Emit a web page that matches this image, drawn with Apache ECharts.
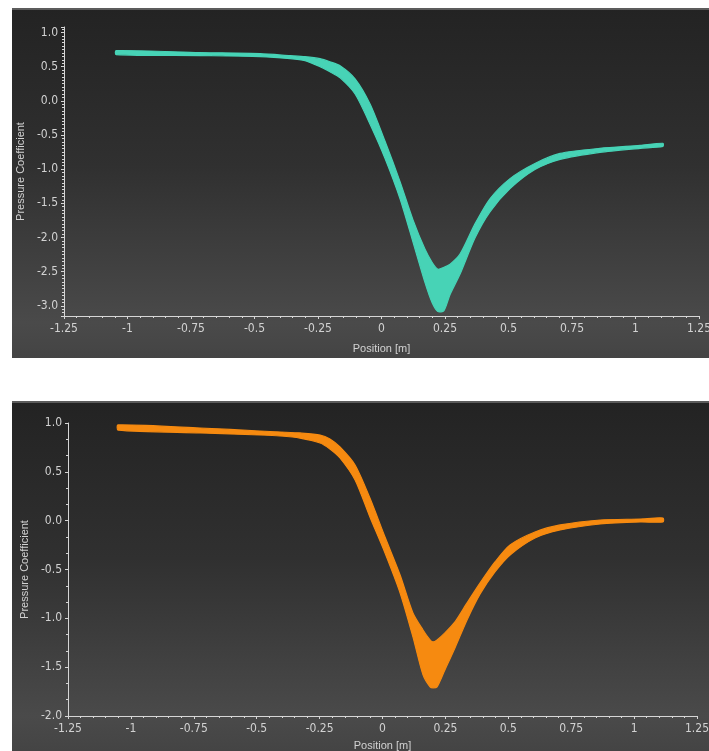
<!DOCTYPE html>
<html><head><meta charset="utf-8">
<script src="https://cdn.jsdelivr.net/npm/echarts@6/dist/echarts.min.js"></script>
<style>html,body{margin:0;padding:0;background:#fff}#c{width:709px;height:751px}</style>
</head><body><div id="c"></div>
<script>
// ---- Top chart (teal) ----
const topX     = [-1.045, -0.715, -0.478, -0.360, -0.301, -0.242, -0.203, -0.163, -0.104, -0.045, 0.014, 0.073, 0.124, 0.171, 0.199, 0.222, 0.246, 0.270, 0.309, 0.368, 0.427, 0.506, 0.604, 0.703, 0.860, 1.018, 1.108];
const topUpper = [0.735, 0.705, 0.690, 0.661, 0.646, 0.617, 0.572, 0.513, 0.322, -0.047, -0.593, -1.183, -1.743, -2.171, -2.363, -2.466, -2.437, -2.392, -2.245, -1.802, -1.434, -1.139, -0.917, -0.770, -0.696, -0.652, -0.622];
const topLower = [0.676, 0.661, 0.646, 0.617, 0.587, 0.499, 0.425, 0.336, 0.100, -0.342, -0.844, -1.434, -2.068, -2.658, -2.953, -3.086, -3.071, -2.835, -2.540, -2.009, -1.625, -1.286, -1.006, -0.858, -0.755, -0.696, -0.667];

// ---- Bottom chart (orange) ----
const botX     = [-1.051, -0.725, -0.487, -0.407, -0.328, -0.248, -0.209, -0.169, -0.109, -0.050, 0.010, 0.070, 0.121, 0.161, 0.189, 0.201, 0.217, 0.248, 0.288, 0.336, 0.388, 0.447, 0.507, 0.606, 0.706, 0.865, 1.024, 1.115];
const botUpper = [0.980, 0.949, 0.918, 0.908, 0.898, 0.877, 0.836, 0.754, 0.570, 0.232, -0.167, -0.556, -0.945, -1.119, -1.221, -1.242, -1.221, -1.149, -1.037, -0.842, -0.637, -0.423, -0.249, -0.116, -0.044, 0.007, 0.017, 0.027];
const botLower = [0.928, 0.898, 0.877, 0.867, 0.846, 0.795, 0.734, 0.642, 0.417, 0.038, -0.331, -0.740, -1.190, -1.579, -1.702, -1.712, -1.702, -1.528, -1.303, -1.016, -0.750, -0.525, -0.351, -0.177, -0.095, -0.034, -0.013, -0.013];

const xName = 'Position [m]';
const yName = 'Pressure Coefficient';

const TEAL = '#47d3b6';
const ORANGE = '#f68a10';
const AXIS = '#d6d6d6';
const LBL = '#d2d2d2';
const FONT = "'Liberation Sans Narrow', 'DejaVu Sans Condensed', 'Liberation Sans', sans-serif";

function bandSeries(xs, up, lo, gi, color) {
  return {
    type: 'custom', coordinateSystem: 'cartesian2d', xAxisIndex: gi, yAxisIndex: gi,
    data: [[xs[0], up[0]]], silent: true, z: 3,
    renderItem: function (params, api) {
      const upper = xs.map((x, i) => api.coord([x, up[i]]));
      const lower = xs.map((x, i) => api.coord([x, lo[i]])).reverse();
      return {
        type: 'polygon',
        shape: { points: upper.concat(lower), smooth: 0.25 },
        style: { fill: color, stroke: color, lineWidth: 1.2, lineJoin: 'round' }
      };
    }
  };
}

function halfStep(v) { return Math.abs(v * 2 - Math.round(v * 2)) < 1e-6; }

function xAxisCfg(gi, gap) {
  return {
    gridIndex: gi, type: 'value', min: -1.25, max: 1.25, interval: 0.25,
    axisLine: { show: true, onZero: false, lineStyle: { color: AXIS, width: 1 } },
    axisTick: { show: true, length: 3, lineStyle: { color: AXIS } },
    minorTick: { show: true, splitNumber: 5, length: 2, lineStyle: { color: AXIS } },
    splitLine: { show: false },
    axisLabel: { color: LBL, fontSize: 12, fontFamily: FONT, margin: 7 },
    name: xName, nameLocation: 'middle', nameGap: gap,
    nameTextStyle: { color: LBL, fontSize: 11, fontFamily: "'Liberation Sans', sans-serif" }
  };
}

function yAxisCfg(gi, min, max, extra, gap, minorSplit) {
  return Object.assign({
    gridIndex: gi, type: 'value', min: min, max: max,
    axisLine: { show: true, onZero: false, lineStyle: { color: AXIS, width: 1 } },
    axisTick: { show: true, length: 3, lineStyle: { color: AXIS } },
    minorTick: { show: true, splitNumber: minorSplit, length: 2, lineStyle: { color: AXIS } },
    splitLine: { show: false },
    axisLabel: { color: LBL, fontSize: 12, fontFamily: FONT, margin: 6,
      formatter: v => halfStep(v) ? v.toFixed(1) : '' },
    name: yName, nameLocation: 'middle', nameGap: gap,
    nameTextStyle: { color: LBL, fontSize: 11, fontFamily: "'Liberation Sans', sans-serif" }
  }, extra);
}

const panelFill = {
  type: 'linear', x: 0, y: 0, x2: 0, y2: 1,
  colorStops: [
    { offset: 0, color: '#232323' },
    { offset: 0.45, color: '#303030' },
    { offset: 0.9, color: '#4a4a4a' },
    { offset: 1, color: '#444444' }
  ]
};

const chart = echarts.init(document.getElementById('c'), null, { renderer: 'canvas' });
chart.setOption({
  backgroundColor: '#ffffff',
  animation: false,
  graphic: [
    { type: 'rect', z: -10, shape: { x: 12, y: 8, width: 697, height: 350 }, style: { fill: panelFill } },
    { type: 'rect', z: -9, shape: { x: 12, y: 8, width: 697, height: 2 }, style: { fill: '#5c5c5c' } },
    { type: 'rect', z: -10, shape: { x: 12, y: 401, width: 697, height: 350 }, style: { fill: panelFill } },
    { type: 'rect', z: -9, shape: { x: 12, y: 401, width: 697, height: 2 }, style: { fill: '#5c5c5c' } }
  ],
  grid: [
    { left: 64, top: 27, width: 635, height: 289, outerBoundsMode: 'none', containLabel: false },
    { left: 68, top: 423, width: 629, height: 293, outerBoundsMode: 'none', containLabel: false }
  ],
  xAxis: [ xAxisCfg(0, 27), xAxisCfg(1, 24) ],
  yAxis: [
    yAxisCfg(0, -3.15, 1.08, { splitNumber: 8 }, 36, 10),
    yAxisCfg(1, -2.0, 1.0, { interval: 0.5 }, 31, 3)
  ],
  series: [
    bandSeries(topX, topUpper, topLower, 0, TEAL),
    bandSeries(botX, botUpper, botLower, 1, ORANGE)
  ]
});
</script></body></html>
